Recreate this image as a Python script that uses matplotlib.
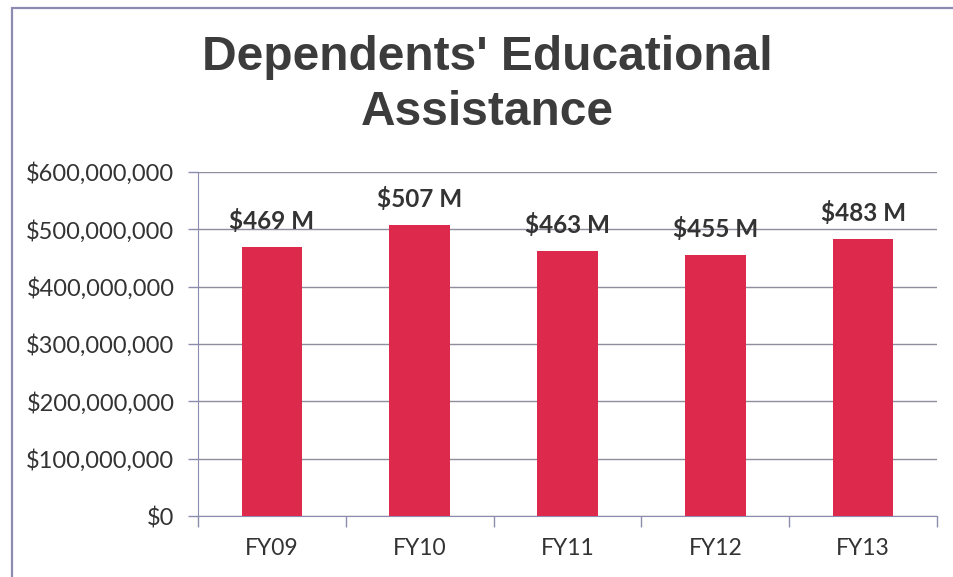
import matplotlib
matplotlib.use("Agg")
import matplotlib.pyplot as plt
from matplotlib.patches import Rectangle
from matplotlib.ticker import FuncFormatter, FixedLocator
import numpy as np

categories = ["FY09", "FY10", "FY11", "FY12", "FY13"]
values_millions = [469, 507, 463, 455, 483]
title = "Dependents' Educational\nAssistance"

bar_color = "#DD2A4C"
axis_color = "#8C8CAE"
grid_color = "#8E8E9E"
text_color = "#333333"
tick_font = "Lato"

fig = plt.figure(figsize=(9.54, 5.77), dpi=100)
fig.patch.set_facecolor("white")

# outer frame of the chart object
fig.add_artist(Rectangle((12 / 954, -0.05), 1.2, 1 - 8 / 577 + 0.05,
                         transform=fig.transFigure, fill=False,
                         edgecolor="#8C8CB0", linewidth=1.6))

ax = fig.add_axes([198 / 954, 1 - 516 / 577, (937 - 198) / 954, (516 - 172) / 577])

x = np.arange(len(categories))
values = np.array(values_millions) * 1e6
ax.bar(x, values, width=0.41, color=bar_color, zorder=3)

ax.set_xlim(-0.5, len(categories) - 0.5)
ax.set_ylim(0, 600e6)
ax.yaxis.set_major_locator(FixedLocator(np.arange(0, 600e6 + 1, 100e6)))
ax.yaxis.set_major_formatter(FuncFormatter(lambda v, p: f"${v:,.0f}"))
ax.grid(axis="y", color=grid_color, linewidth=1.0, zorder=0)

ax.set_xticks(x)
ax.set_xticklabels(categories)
ax.xaxis.set_minor_locator(FixedLocator(np.arange(-0.5, len(categories), 1.0)))
ax.tick_params(axis="x", which="major", length=0, pad=16, labelsize=16.5,
               labelcolor=text_color)
ax.tick_params(axis="x", which="minor", length=8, color=axis_color, width=1)
ax.tick_params(axis="y", length=7, color=axis_color, width=1, pad=10,
               labelsize=17, labelcolor=text_color)
for lbl in ax.get_xticklabels() + ax.get_yticklabels():
    lbl.set_fontfamily(tick_font)

for side in ["top", "right"]:
    ax.spines[side].set_visible(False)
ax.spines["left"].set_color(axis_color)
ax.spines["bottom"].set_color(axis_color)

for xi, v in zip(x, values_millions):
    ax.annotate(f"${v} M", (xi, v * 1e6), xytext=(0, 10), textcoords="offset points",
                ha="center", va="bottom", fontsize=17.5, fontweight="bold",
                color=text_color, family=tick_font, zorder=4)

fig.text(487 / 954, 1 - 85 / 577, title, ha="center", va="center",
         fontsize=34.5, fontweight="bold", color="#3C3C3C",
         family="Liberation Sans", linespacing=1.3)

fig.savefig("out.png", dpi=100)
